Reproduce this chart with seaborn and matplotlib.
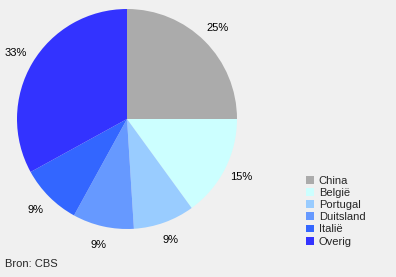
import matplotlib
matplotlib.use("Agg")
import matplotlib.pyplot as plt
import seaborn as sns
from matplotlib.patches import Patch

categories = ["China", "België", "Portugal", "Duitsland", "Italië", "Overig"]
values = [25, 15, 9, 9, 9, 33]
colors_hex = ["#ABABAB", "#CCFFFF", "#99CCFF", "#6699FF", "#3366FF", "#3333FF"]
source = "Bron: CBS"

sns.set_theme(style="white")
plt.rcParams["font.family"] = ["Liberation Sans", "DejaVu Sans"]
palette = sns.color_palette(colors_hex)

W, H = 396, 277
fig = plt.figure(figsize=(W / 100, H / 100), dpi=100, facecolor="#F0F0F0")
cx, cy, r = 127, 119, 110
ax = fig.add_axes([(cx - r) / W, (H - cy - r) / H, 2 * r / W, 2 * r / H])
ax.set_facecolor("none")
wedges, texts, autotexts = ax.pie(
    values, colors=palette, startangle=90, counterclock=False,
    autopct="%.0f%%", pctdistance=1.17, radius=1.0,
    wedgeprops=dict(linewidth=0),
    textprops=dict(fontsize=8, color="black"),
)
ax.set_xlim(-1, 1)
ax.set_ylim(-1, 1)
ax.set_aspect("auto")
ax.axis("off")

handles = [Patch(facecolor=c, edgecolor="none") for c in palette]
fig.legend(handles, categories, loc="upper left",
           bbox_to_anchor=(306 / W, 1 - 175.5 / H), frameon=False,
           fontsize=8, handlelength=0.7, handleheight=0.7,
           handletextpad=0.45, labelspacing=0.2, borderpad=0, borderaxespad=0)

fig.text(5 / W, 1 - 264 / H, source, fontsize=8, va="center", ha="left")

fig.savefig("out.png", dpi=100, facecolor=fig.get_facecolor())
